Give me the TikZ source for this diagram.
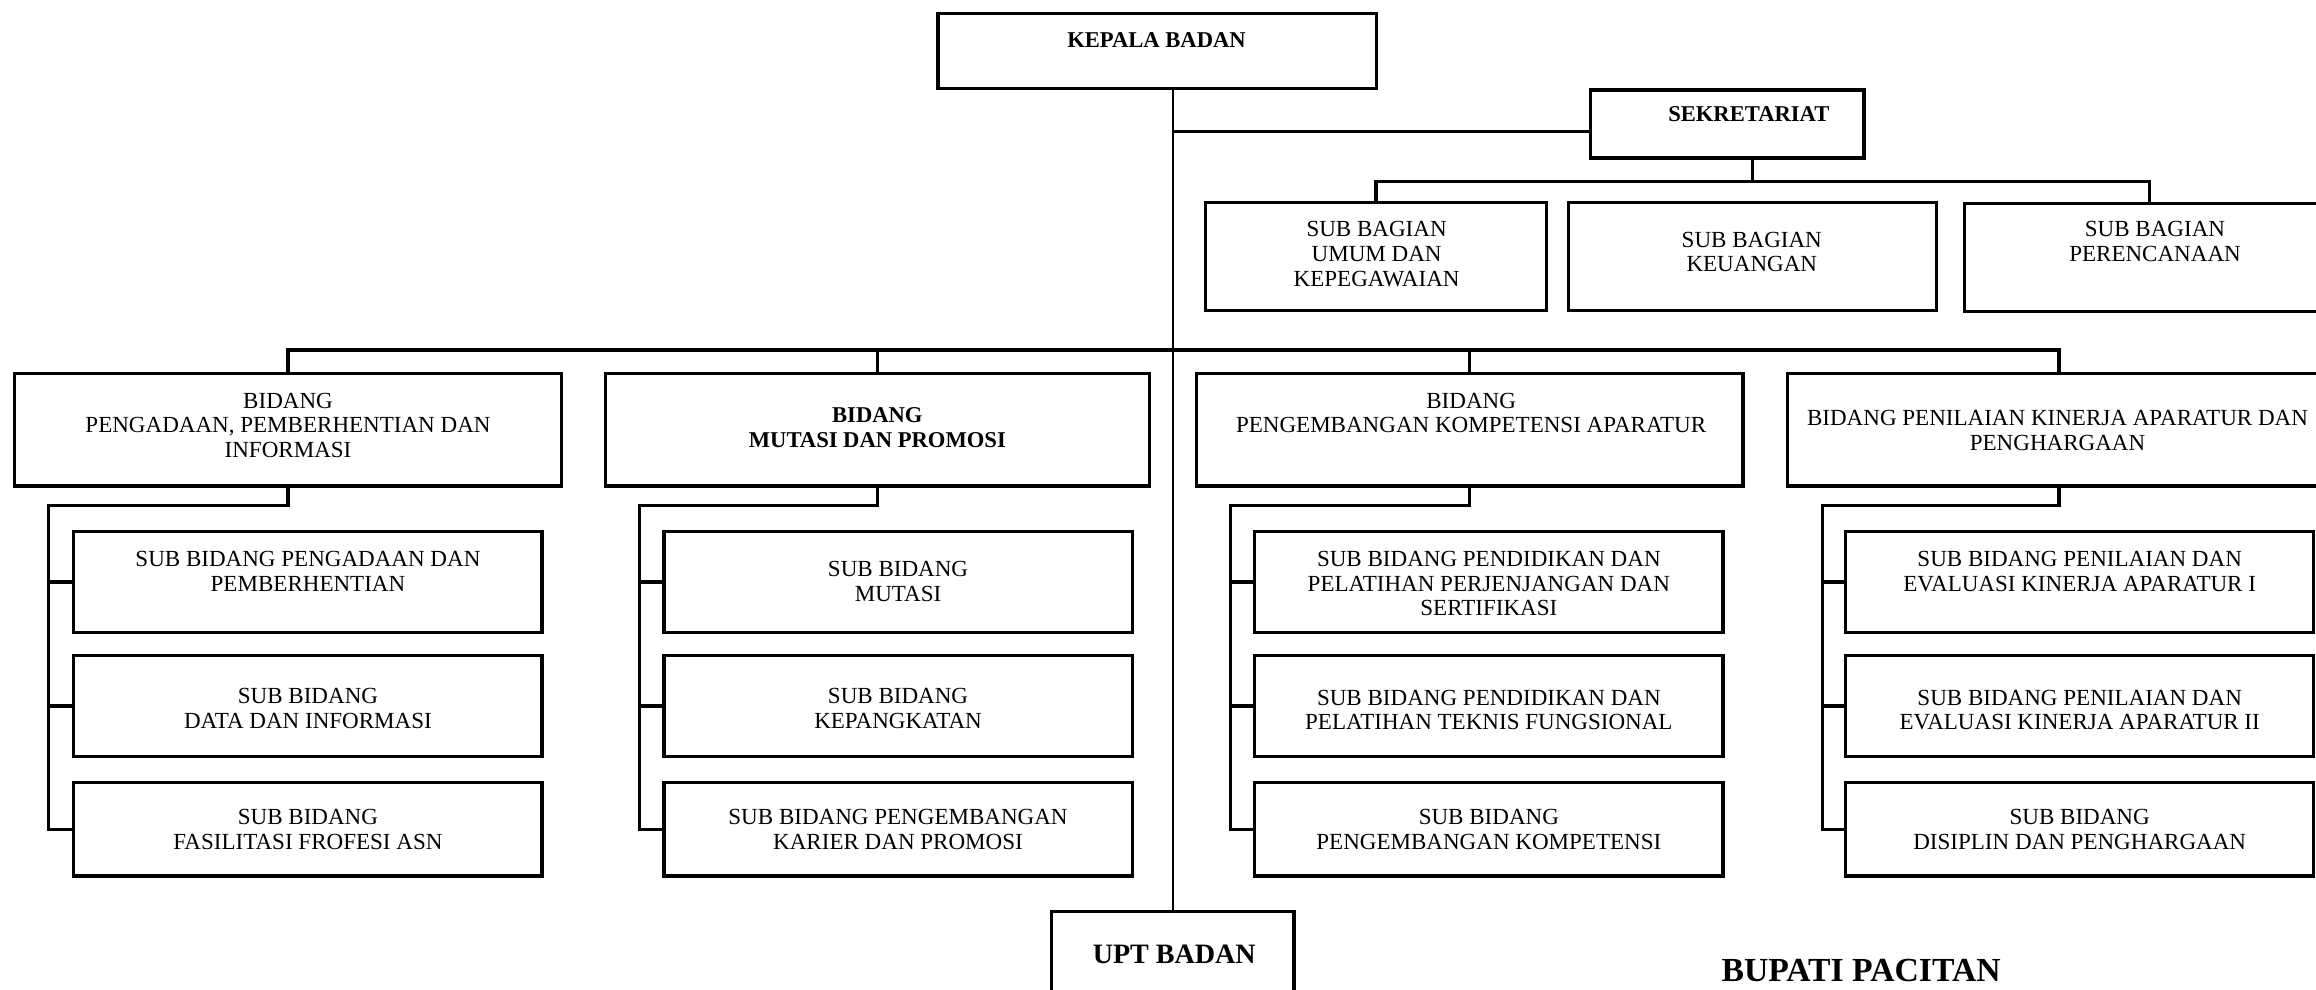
\documentclass[tikz,border=0pt]{standalone}
\usepackage{fontspec}
\setmainfont{Liberation Serif}
\begin{document}
\begin{tikzpicture}[x=1pt,y=-1pt,
  box/.style={draw, line width=2.2pt, inner sep=0pt, rectangle},
  conn/.style={line width=2.2pt},
  mainline/.style={line width=1.6pt},
  txt/.style={inner sep=0pt, align=center, anchor=north, font=\fontsize{15.6}{16.8}\selectfont},
  btxt/.style={inner sep=0pt, align=center, anchor=north, font=\fontsize{15.3}{16.8}\selectfont\bfseries},
  subbox/.style={box, minimum width=317pt},
  bidbox/.style={box, minimum height=76pt}]
\useasboundingbox (0,0) rectangle (1568,670);
\clip (0,0) rectangle (1568,670);

% top level
\node[box, minimum width=297pt, minimum height=51pt] (kepala) at (783.5,34.5) {};
\node[btxt] (tkepala) at (783,21.9) {KEPALA BADAN};
\node[box, minimum width=185pt, minimum height=46pt] (sekr) at (1169.5,84) {};
\node[btxt] (tsekr) at (1184,71.9) {SEKRETARIAT};

% sub bagian
\node[box, minimum width=231pt, minimum height=73pt] (sb1) at (931.5,173.5) {};
\node[txt] (tsb1) at (932,149.8) {SUB BAGIAN\\UMUM DAN\\KEPEGAWAIAN};
\node[box, minimum width=249pt, minimum height=73pt] (sb2) at (1186.5,173.5) {};
\node[txt] (tsb2) at (1186,156.8) {SUB BAGIAN\\KEUANGAN};
\node[box, minimum width=250pt, minimum height=73pt] (sb3) at (1455,174.5) {};
\node[txt] (tsb3) at (1459,149.8) {SUB BAGIAN\\PERENCANAAN};

% bidang
\node[bidbox, minimum width=370pt] (b1) at (195,291) {};
\node[txt] (tb1) at (195,265.8) {BIDANG\\PENGADAAN, PEMBERHENTIAN DAN\\INFORMASI};
\node[bidbox, minimum width=368pt] (b2) at (594,291) {};
\node[btxt] (tb2) at (594,275.9) {BIDANG\\MUTASI DAN PROMOSI};
\node[bidbox, minimum width=370pt] (b3) at (995,291) {};
\node[txt] (tb3) at (996,265.8) {BIDANG\\PENGEMBANGAN KOMPETENSI APARATUR};
\node[bidbox, minimum width=368pt] (b4) at (1394,291) {};
\node[txt] (tb4) at (1393,277.8) {BIDANG PENILAIAN KINERJA APARATUR DAN\\PENGHARGAAN};

% sub bidang group 1
\node[subbox, minimum height=68pt] (s11) at (208.5,394) {};
\node[txt] (ts11) at (208.5,372.8) {SUB BIDANG PENGADAAN DAN\\PEMBERHENTIAN};
\node[subbox, minimum height=68pt] (s12) at (208.5,478) {};
\node[txt] (ts12) at (208.5,465.8) {SUB BIDANG\\DATA DAN INFORMASI};
\node[subbox, minimum height=63pt] (s13) at (208.5,561.5) {};
\node[txt] (ts13) at (208.5,547.8) {SUB BIDANG\\FASILITASI FROFESI ASN};

% group 2
\node[subbox, minimum height=68pt] (s21) at (608,394) {};
\node[txt] (ts21) at (608,379.8) {SUB BIDANG\\MUTASI};
\node[subbox, minimum height=68pt] (s22) at (608,478) {};
\node[txt] (ts22) at (608,465.8) {SUB BIDANG\\KEPANGKATAN};
\node[subbox, minimum height=63pt] (s23) at (608,561.5) {};
\node[txt] (ts23) at (608,547.8) {SUB BIDANG PENGEMBANGAN\\KARIER DAN PROMOSI};

% group 3
\node[subbox, minimum height=68pt] (s31) at (1008,394) {};
\node[txt] (ts31) at (1008,372.8) {SUB BIDANG PENDIDIKAN DAN\\PELATIHAN PERJENJANGAN DAN\\SERTIFIKASI};
\node[subbox, minimum height=68pt] (s32) at (1008,478) {};
\node[txt] (ts32) at (1008,466.8) {SUB BIDANG PENDIDIKAN DAN\\PELATIHAN TEKNIS FUNGSIONAL};
\node[subbox, minimum height=63pt] (s33) at (1008,561.5) {};
\node[txt] (ts33) at (1008,547.8) {SUB BIDANG\\PENGEMBANGAN KOMPETENSI};

% group 4
\node[subbox, minimum height=68pt] (s41) at (1408,394) {};
\node[txt] (ts41) at (1408,372.8) {SUB BIDANG PENILAIAN DAN\\EVALUASI KINERJA APARATUR I};
\node[subbox, minimum height=68pt] (s42) at (1408,478) {};
\node[txt] (ts42) at (1408,466.8) {SUB BIDANG PENILAIAN DAN\\EVALUASI KINERJA APARATUR II};
\node[subbox, minimum height=63pt] (s43) at (1408,561.5) {};
\node[txt] (ts43) at (1408,547.8) {SUB BIDANG\\DISIPLIN DAN PENGHARGAAN};

% bottom
\node[box, minimum width=164pt, minimum height=83pt] (upt) at (794,658.5) {};
\node[inner sep=0pt, anchor=north, font=\fontsize{19}{22}\selectfont\bfseries] (tupt) at (795,639.7) {UPT BADAN};
\node[inner sep=0pt, anchor=north, font=\fontsize{22.8}{26}\selectfont\bfseries] (bupati) at (1260,649.5) {BUPATI PACITAN};

% coordinates
\coordinate (sk) at (0,89);
\coordinate (sbus) at (0,123);
\coordinate (bb) at (0,237);
\coordinate (v1) at (33,342);
\coordinate (v2) at (433,342);
\coordinate (v3) at (833,342);
\coordinate (v4) at (1234,342);

% connectors
\draw[mainline] (kepala.south -| upt.north) -- (upt.north);
\draw[conn] (upt.north |- sk) -- (sekr.west |- sk);
\draw[conn] (sekr.south -| sb2.north) -- (sb2.north |- sbus);
\draw[conn] (sb1.north) -- (sb1.north |- sbus) -- (sb3.north |- sbus) -- (sb3.north);
\draw[conn] (b1.north) -- (b1.north |- bb) -- (b4.north |- bb) -- (b4.north);
\draw[conn] (b2.north) -- (b2.north |- bb);
\draw[conn] (b3.north) -- (b3.north |- bb);

\draw[conn] (b1.south) |- (v1) |- (s13.west);
\draw[conn] (v1 |- s11.west) -- (s11.west);
\draw[conn] (v1 |- s12.west) -- (s12.west);
\draw[conn] (b2.south) |- (v2) |- (s23.west);
\draw[conn] (v2 |- s21.west) -- (s21.west);
\draw[conn] (v2 |- s22.west) -- (s22.west);
\draw[conn] (b3.south) |- (v3) |- (s33.west);
\draw[conn] (v3 |- s31.west) -- (s31.west);
\draw[conn] (v3 |- s32.west) -- (s32.west);
\draw[conn] (b4.south) |- (v4) |- (s43.west);
\draw[conn] (v4 |- s41.west) -- (s41.west);
\draw[conn] (v4 |- s42.west) -- (s42.west);
\end{tikzpicture}
\end{document}
